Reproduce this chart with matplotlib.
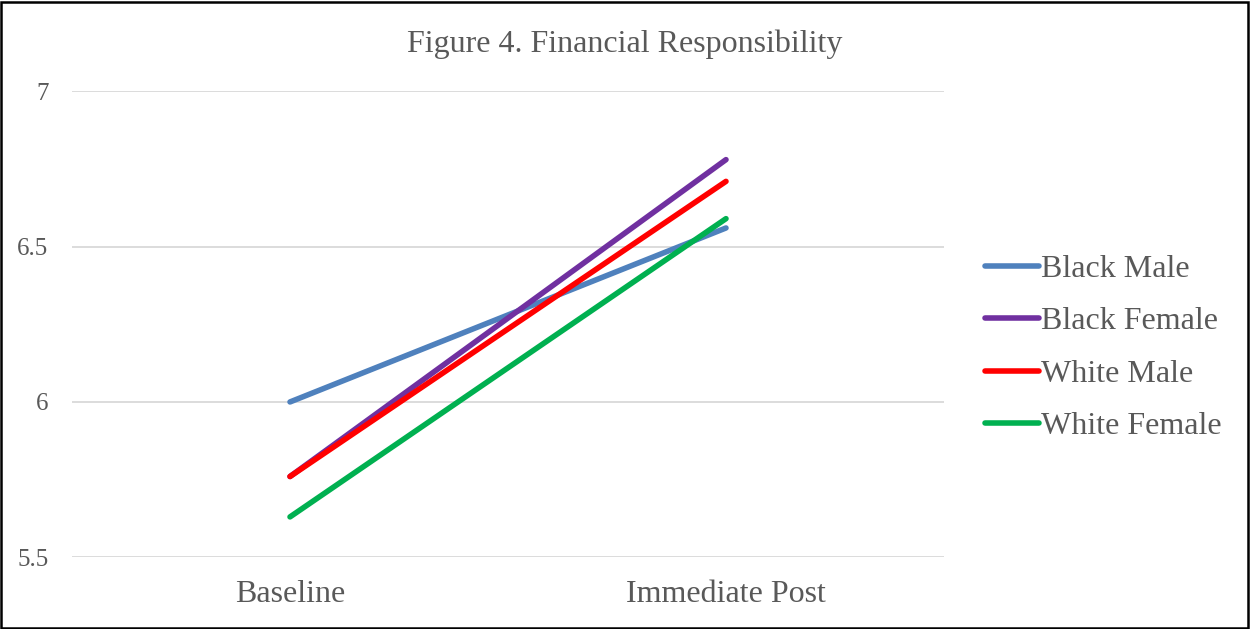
import matplotlib
matplotlib.use("Agg")
import matplotlib.pyplot as plt
from matplotlib.patches import Rectangle

plt.rcParams["font.family"] = ["Liberation Serif", "DejaVu Serif"]

# Data
timepoints = ["Baseline", "Immediate Post"]
groups = ["Black Male", "Black Female", "White Male", "White Female"]
black_male = [6.00, 6.56]
black_female = [5.76, 6.78]
white_male = [5.76, 6.71]
white_female = [5.63, 6.59]
series = [black_male, black_female, white_male, white_female]
colors = ["#4f81bd", "#7030a0", "#ff0000", "#00b050"]
yticks = [5.5, 6, 6.5, 7]

text_col = "#595959"

fig = plt.figure(figsize=(12.5, 6.29), dpi=100)
ax = fig.add_axes([0.0576, 0.114, 0.6976, 0.7409])

x = range(len(timepoints))
for vals, name, c in zip(series, groups, colors):
    ax.plot(x, vals, color=c, lw=4, solid_capstyle="round", label=name)

ax.set_xlim(-0.5, 1.5)
ax.set_ylim(5.5, 7)
ax.set_yticks(yticks)
ax.set_yticklabels(["5.5", "6", "6.5", "7"])
ax.set_xticks(list(x))
ax.set_xticklabels(timepoints)
ax.grid(axis="y", color="#d9d9d9", lw=1.3)
ax.set_axisbelow(True)
for s in ax.spines.values():
    s.set_visible(False)
ax.tick_params(axis="y", length=0, labelsize=18, labelcolor=text_col, pad=17)
ax.tick_params(axis="x", length=0, labelsize=23, labelcolor=text_col, pad=16)

fig.text(0.5, 0.93, "Figure 4. Financial Responsibility", ha="center", va="center",
         fontsize=23, color=text_col)

leg = fig.legend(loc="center left", bbox_to_anchor=(0.788, 0.447), frameon=False,
                 fontsize=23, labelcolor=text_col, handlelength=1.7,
                 handletextpad=0.05, labelspacing=0.72, borderpad=0, borderaxespad=0)
for h in leg.get_lines():
    h.set_linewidth(4)
    h.set_solid_capstyle("round")

# outer frame
fig.patches.append(Rectangle((0.001, 0.002), 0.997, 0.995, transform=fig.transFigure,
                             fill=False, edgecolor="black", lw=1.8))

fig.savefig("out.png", dpi=100)
